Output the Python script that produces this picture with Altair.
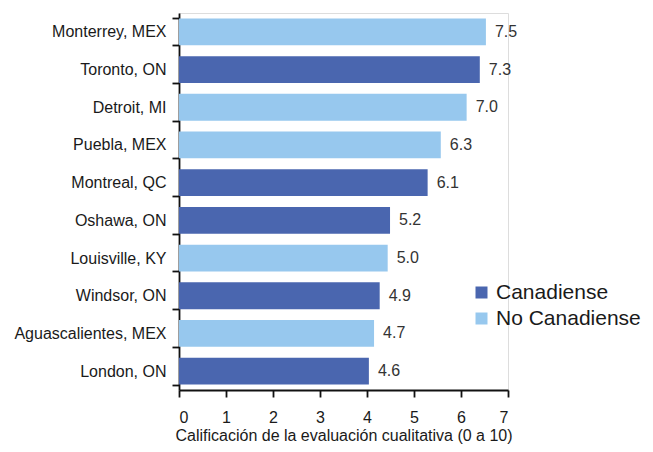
import altair as alt
import pandas as pd

cities = ["Monterrey, MEX", "Toronto, ON", "Detroit, MI", "Puebla, MEX", "Montreal, QC",
          "Oshawa, ON", "Louisville, KY", "Windsor, ON", "Aguascalientes, MEX", "London, ON"]
bar_length = [6.53, 6.40, 6.12, 5.57, 5.29, 4.49, 4.44, 4.27, 4.15, 4.04]
score_label = ["7.5", "7.3", "7.0", "6.3", "6.1", "5.2", "5.0", "4.9", "4.7", "4.6"]
group = ["No Canadiense", "Canadiense", "No Canadiense", "No Canadiense", "Canadiense",
         "Canadiense", "No Canadiense", "Canadiense", "No Canadiense", "Canadiense"]

df = pd.DataFrame({"city": cities, "len": bar_length, "lab": score_label, "grp": group})

FONT = "Liberation Sans"

y_enc = alt.Y("city:N", sort=cities, title=None,
              scale=alt.Scale(paddingInner=0.29, paddingOuter=0.145),
              axis=alt.Axis(tickBand="extent", domainColor="#111", domainWidth=1.8,
                            tickColor="#111", tickWidth=1.8, tickSize=7, labelPadding=6,
                            labelFont=FONT, labelFontSize=16, labelColor="#1a1a1a"))

bars = alt.Chart(df).mark_bar().encode(
    x=alt.X("len:Q", scale=alt.Scale(domain=[0, 7]), title="Calificación de la evaluación cualitativa (0 a 10)",
            axis=alt.Axis(values=[0, 1, 2, 3, 4, 5, 6, 7], grid=False, domainColor="#111", domainWidth=1.8,
                          tickColor="#111", tickWidth=1.8, tickSize=7, labelPadding=12,
                          labelFont=FONT, labelFontSize=16, labelColor="#1a1a1a",
                          titleFont=FONT, titleFontSize=16, titleFontWeight="normal",
                          titleColor="#1a1a1a", titlePadding=2)),
    y=y_enc,
    color=alt.Color("grp:N", scale=alt.Scale(domain=["Canadiense", "No Canadiense"],
                                            range=["#4A66AF", "#97C8EE"]),
                    legend=alt.Legend(title=None, orient="none", legendX=292, legendY=269,
                                      symbolType="square", symbolSize=144, symbolStrokeWidth=0,
                                      labelFont=FONT, labelFontSize=21, labelColor="#1a1a1a",
                                      rowPadding=4, labelOffset=4))
)

text = alt.Chart(df).mark_text(align="left", dx=9, font=FONT, fontSize=16, color="#333").encode(
    x="len:Q", y=alt.Y("city:N", sort=cities), text="lab:N"
)

chart = (bars + text).properties(
    width=329, height=377,
    autosize=alt.AutoSizeParams(type="none"),
    padding={"left": 171, "top": 5, "right": 137, "bottom": 54}
).configure_view(stroke=None).configure(background="white")

chart.save("out.html", embed_options={"renderer": "svg", "actions": False})
